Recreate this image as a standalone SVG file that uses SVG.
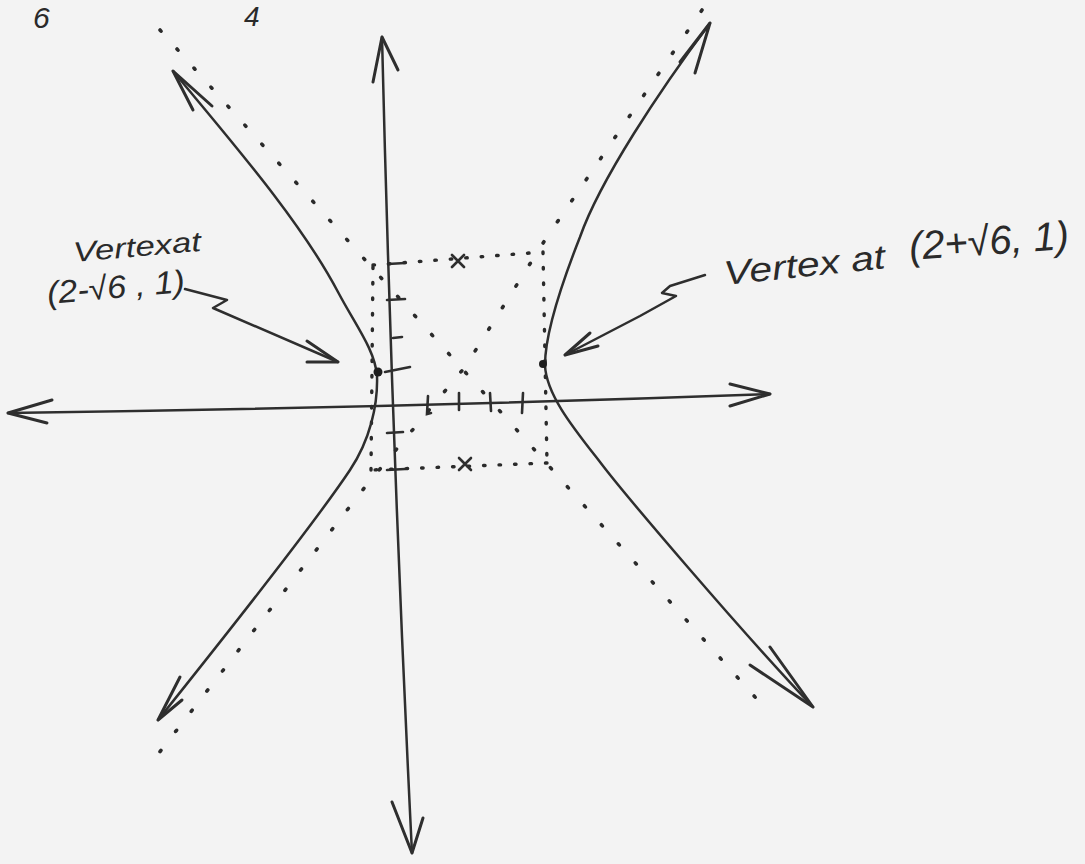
<svg xmlns="http://www.w3.org/2000/svg" width="1085" height="864" viewBox="0 0 1085 864">
<style>
.ink{fill:none;stroke:#2e2e2e;stroke-width:2.5;stroke-linecap:round;stroke-linejoin:round}
.head{fill:none;stroke:#2e2e2e;stroke-width:3;stroke-linecap:round;stroke-linejoin:round}
.dots{fill:none;stroke:#2a2a2a;stroke-width:3.6;stroke-linecap:round;stroke-dasharray:1.5 24}
.boxdots{fill:none;stroke:#2a2a2a;stroke-width:3.4;stroke-linecap:round;stroke-dasharray:1.5 14}
.tick{fill:none;stroke:#2e2e2e;stroke-width:2.6;stroke-linecap:round}
.hand{font-family:"Liberation Sans","DejaVu Sans",sans-serif;font-style:italic;fill:#2a2a2a}
</style>
<rect width="1085" height="864" fill="#f3f3f3"/>

<g id="axes">
<path class="ink" d="M8,413 Q390,408 770,394"/>
<path class="head" d="M52,400 L8,413 L47,423"/>
<path class="head" d="M730,384 L770,394 L730,406"/>
<path class="ink" d="M382,37 Q392,450 412,853"/>
<path class="head" d="M373,82 L382,37 L398,70"/>
<path class="head" d="M392,802 L412,853 L423,818"/>
</g>

<g id="ticks">
<path class="tick" d="M388,264 L405,263"/>
<path class="tick" d="M387,300 L405,299"/>
<path class="tick" d="M393,338 L402,337"/>
<path class="tick" d="M385,372 L410,367"/>
<path class="tick" d="M387,433 L403,432"/>
<path class="tick" d="M387,470 L405,469"/>
<path class="tick" d="M428,396 L427,414 L431,413"/>
<path class="tick" d="M459,393 L459,410"/>
<path class="tick" d="M490,393 L491,411"/>
<path class="tick" d="M523,393 L522,413"/>
</g>

<g id="box">
<path class="boxdots" d="M373,265 L543,252"/>
<path class="boxdots" d="M543,252 L547,463"/>
<path class="boxdots" d="M547,463 L371,470"/>
<path class="boxdots" d="M371,470 L373,265"/>
<path class="tick" d="M452,255 L464,267 M464,255 L452,267"/>
<path class="tick" d="M459,458 L471,470 M471,458 L459,470"/>
</g>

<g id="asymptotes">
<path class="dots" d="M160,30 L763,706"/>
<path class="dots" d="M702,10 L545,240 L465,367 L365,487 L152,762"/>
</g>

<g id="hyperbola-left">
<path class="ink" d="M173,71 C230,140 300,220 338,292 C356,326 375,350 377,376 C378,405 370,440 350,470 C320,515 230,630 158,720"/>
<path class="head" d="M193,110 L173,71 L212,106"/>
<path class="head" d="M180,677 L158,720 L182,700"/>
<circle id="vertex-left" cx="378" cy="372" r="4.5" fill="#1e1e1e"/>
</g>

<g id="hyperbola-right">
<path class="ink" d="M710,23 C660,90 600,180 580,237 C565,275 545,330 545,365 C546,395 575,430 600,462 C625,495 740,630 813,707"/>
<path class="head" d="M680,62 L710,23 L695,73"/>
<path class="head" d="M770,647 L813,707 L750,665"/>
<circle id="vertex-right" cx="543" cy="364" r="4" fill="#1e1e1e"/>
</g>

<g id="labels">
<text class="hand" x="33" y="28" font-size="30">6</text>
<text class="hand" x="244" y="26" font-size="28">4</text>
<text class="hand" x="74" y="262" font-size="28" textLength="128" lengthAdjust="spacingAndGlyphs" transform="rotate(-5 74 262)">Vertexat</text>
<text class="hand" x="48" y="304" font-size="32" textLength="138" lengthAdjust="spacingAndGlyphs" transform="rotate(-5 48 304)">(2-√6 , 1)</text>
<text class="hand" x="725" y="285" font-size="34" textLength="162" lengthAdjust="spacingAndGlyphs" transform="rotate(-6 725 285)">Vertex at</text>
<text class="hand" x="910" y="260" font-size="40" textLength="160" lengthAdjust="spacingAndGlyphs" transform="rotate(-4 910 260)">(2+√6, 1)</text>
</g>

<g id="connectors">
<path class="ink" d="M185,289 L227,300 L213,308 L338,362"/>
<path class="head" d="M307,341 L338,362 L307,362"/>
<path class="ink" d="M705,275 L670,286 L662,293 L676,296 L640,316 L565,355"/>
<path class="head" d="M590,333 L565,355 L598,346"/>
</g>
</svg>
